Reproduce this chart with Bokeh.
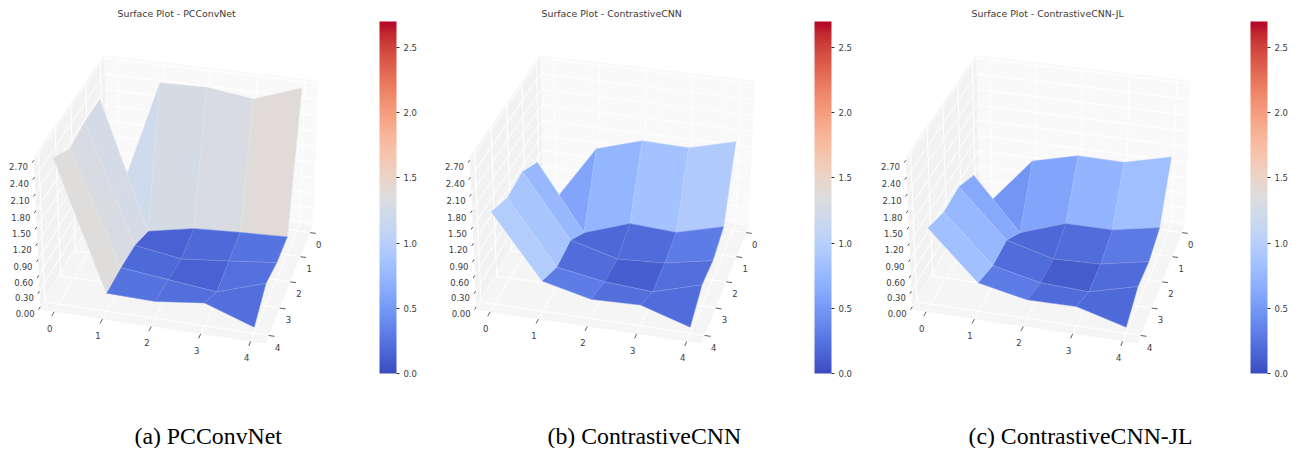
import numpy as np
from bokeh.embed import file_html
from bokeh.resources import INLINE
from bokeh.plotting import figure
from bokeh.layouts import row
from bokeh.models import (ColorBar, ColumnDataSource, FixedTicker, LinearColorMapper,
                          PrintfTickFormatter, Range1d, Title)
from bokeh.core.properties import value

TITLES = ["Surface Plot - PCConvNet", "Surface Plot - ContrastiveCNN", "Surface Plot - ContrastiveCNN-JL"]
CAPTIONS = ["(a) PCConvNet", "(b) ContrastiveCNN", "(c) ContrastiveCNN-JL"]
GRID_TICKS = [0, 1, 2, 3, 4]
Z_TICKS = [0.0, 0.3, 0.6, 0.9, 1.2, 1.5, 1.8, 2.1, 2.4, 2.7]
CB_TICKS = [0.0, 0.5, 1.0, 1.5, 2.0, 2.5]

# rows are y = 0..4, columns x = 0..4
PCCONVNET = [
    [0.00, 2.48, 2.50, 2.39, 2.70],
    [2.46, 0.03, 0.21, 0.26, 0.30],
    [2.46, 0.23, 0.09, 0.18, 0.28],
    [2.38, 0.28, 0.18, 0.08, 0.38],
    [2.65, 0.29, 0.27, 0.38, 0.06],
]
CONTRASTIVE = [
    [0.00, 1.21, 1.48, 1.46, 1.69],
    [1.26, 0.00, 0.31, 0.26, 0.50],
    [1.52, 0.33, 0.09, 0.14, 0.32],
    [1.48, 0.29, 0.14, 0.08, 0.35],
    [1.68, 0.52, 0.31, 0.34, 0.06],
]
CONTRASTIVE_JL = [
    [0.00, 0.97, 1.19, 1.18, 1.40],
    [1.01, 0.00, 0.31, 0.31, 0.48],
    [1.23, 0.33, 0.09, 0.12, 0.30],
    [1.21, 0.32, 0.12, 0.08, 0.32],
    [1.38, 0.49, 0.30, 0.31, 0.06],
]
SERIES = [PCCONVNET, CONTRASTIVE, CONTRASTIVE_JL]

COOLWARM = [(59,76,192),(68,90,204),(77,104,215),(87,117,225),(98,130,234),(108,142,241),
 (119,154,247),(130,165,251),(141,176,254),(152,185,255),(163,194,255),(174,201,253),
 (184,208,249),(194,213,244),(204,217,238),(213,219,230),(221,221,221),(229,216,209),
 (236,211,197),(241,204,185),(245,196,173),(247,187,160),(247,177,148),(247,166,135),
 (244,154,123),(241,141,111),(236,127,99),(229,112,88),(222,96,77),(213,80,66),
 (203,62,56),(192,40,47),(180,4,38)]
anchors = np.array(COOLWARM, float)
stops = np.linspace(0, 1, len(anchors))
PALETTE = ["#%02x%02x%02x" % tuple(int(round(np.interp(t, stops, anchors[:, c]))) for c in range(3))
           for t in np.linspace(0, 1, 256)]
ZMAX = 2.7
FACE_NORM = 2.77


def colour(v):
    return PALETTE[int(np.clip(v / FACE_NORM, 0, 1) * 255)]


# camera, in the style of a matplotlib 3D axes
ELEV, AZ = np.radians(30), np.radians(15)
XMIN, XMAX = -0.29, 4.29
ZMIN, ZTOP = -0.056, 2.756
BOX_XY, BOX_Z, DIST = 1.19, 0.90, 10.0
SCALE, CX, CY = 191.0, 181.0, 193.0
R = np.array([np.cos(AZ), -np.sin(AZ), 0])
U = np.array([-np.sin(ELEV) * np.sin(AZ), -np.sin(ELEV) * np.cos(AZ), np.cos(ELEV)])
E = np.array([np.cos(ELEV) * np.sin(AZ), np.cos(ELEV) * np.cos(AZ), np.sin(ELEV)])


def world(x, y, z):
    return np.array([((x - XMIN) / (XMAX - XMIN) - .5) * BOX_XY,
                     ((y - XMIN) / (XMAX - XMIN) - .5) * BOX_XY,
                     ((z - ZMIN) / (ZTOP - ZMIN) - .5) * BOX_Z])


def proj(x, y, z):
    P = world(x, y, z)
    f = DIST / (DIST - P @ E)
    return CX + SCALE * f * (P @ R), CY - SCALE * f * (P @ U)


FRAME_TOP, FRAME_H = 19.0, 401.0
WIDTHS = [436, 436, 429]
CB_X = [379, 378, 378]
CAP_LEFT = [134, 111, 96]
TITLE_LEFT = [117, 105, 99]
TXT = "#3a3a3a"
figs = []
for i, Z in enumerate(SERIES):
    Z = np.array(Z)
    W = WIDTHS[i]
    p = figure(frame_width=W, frame_height=int(FRAME_H), output_backend="svg", toolbar_location=None,
               x_range=Range1d(0, W), y_range=Range1d(FRAME_TOP + FRAME_H, FRAME_TOP),
               min_border=0, outline_line_color=None, margin=(4, 0, 0, 0),
               background_fill_color="white", border_fill_color="white")
    p.axis.visible = False
    p.xgrid.visible = False
    p.ygrid.visible = False
    p.title = Title(text=TITLES[i], align="left", offset=TITLE_LEFT[i], text_font="DejaVu Sans",
                    text_font_size="9.4px", text_font_style="normal", text_color=TXT, standoff=2)
    p.add_layout(Title(text=CAPTIONS[i], align="left", offset=CAP_LEFT[i], text_font="Liberation Serif",
                       text_font_size="23.8px", text_font_style="normal", text_color="black", standoff=0), "below")

    # panes
    def pane(pts, col):
        xy = [proj(*q) for q in pts]
        p.patch([a for a, _ in xy], [b for _, b in xy], fill_color=col, line_color=None)

    pane([(XMIN, XMAX, ZMIN), (XMAX, XMAX, ZMIN), (XMAX, XMIN, ZMIN), (XMIN, XMIN, ZMIN)], "#f5f5f5")
    pane([(XMIN, XMIN, ZMIN), (XMAX, XMIN, ZMIN), (XMAX, XMIN, ZTOP), (XMIN, XMIN, ZTOP)], "#f9f9f9")
    pane([(XMIN, XMIN, ZMIN), (XMIN, XMAX, ZMIN), (XMIN, XMAX, ZTOP), (XMIN, XMIN, ZTOP)], "#f2f2f2")

    # grid
    segs = []
    for t in GRID_TICKS:
        segs += [((t, XMIN, ZMIN), (t, XMAX, ZMIN)), ((t, XMIN, ZMIN), (t, XMIN, ZTOP)),
                 ((XMIN, t, ZMIN), (XMAX, t, ZMIN)), ((XMIN, t, ZMIN), (XMIN, t, ZTOP))]
    for t in Z_TICKS:
        segs += [((XMIN, XMIN, t), (XMAX, XMIN, t)), ((XMIN, XMIN, t), (XMIN, XMAX, t))]
    a = [proj(*s[0]) for s in segs]
    b = [proj(*s[1]) for s in segs]
    p.segment([q[0] for q in a], [q[1] for q in a], [q[0] for q in b], [q[1] for q in b],
              line_color="white", line_width=1)

    # surface, far faces first
    faces = []
    for iy in range(4):
        for ix in range(4):
            corners = [(ix, iy), (ix + 1, iy), (ix + 1, iy + 1), (ix, iy + 1)]
            pts = [(GRID_TICKS[cx], GRID_TICKS[cy], Z[cy, cx]) for cx, cy in corners]
            depth = np.mean([world(*q) @ E for q in pts])
            mean_z = np.mean([q[2] for q in pts])
            xy = [proj(*q) for q in pts]
            faces.append((depth, [q[0] for q in xy], [q[1] for q in xy], colour(mean_z)))
    faces.sort(key=lambda f: f[0])
    src = ColumnDataSource(dict(xs=[f[1] for f in faces], ys=[f[2] for f in faces], c=[f[3] for f in faces]))
    p.patches("xs", "ys", source=src, fill_color="c", line_color="c", line_width=0.4)
    p.multi_line("xs", "ys", source=src, line_color="white", line_width=0.5, line_alpha=0.2)

    # ticks and their labels
    tx0 = [proj(t, XMAX, ZMIN) for t in GRID_TICKS]
    tx1 = [proj(t, XMAX + 0.16, ZMIN) for t in GRID_TICKS]
    ty0 = [proj(XMAX, t, ZMIN) for t in GRID_TICKS]
    ty1 = [proj(XMAX + 0.12, t, ZMIN) for t in GRID_TICKS]
    tz0 = [proj(XMIN, XMAX, t) for t in Z_TICKS]
    tz1 = [proj(XMIN, XMAX + 0.1, t) for t in Z_TICKS]
    for s, e in ((tx0, tx1), (ty0, ty1), (tz0, tz1)):
        p.segment([q[0] for q in s], [q[1] for q in s], [q[0] for q in e], [q[1] for q in e],
                  line_color="#333333", line_width=0.8)
    font = dict(text_font=value("DejaVu Sans"), text_font_size="8.5px", text_color=TXT)
    p.text([q[0] for q in tx1], [q[1] for q in tx1], text=[str(t) for t in GRID_TICKS], text_align="center",
           text_baseline="middle", x_offset=-2, y_offset=12, **font)
    p.text([q[0] for q in ty1], [q[1] for q in ty1], text=[str(t) for t in GRID_TICKS], text_align="center",
           text_baseline="middle", x_offset=3, y_offset=11, **font)
    p.text([q[0] for q in tz1], [q[1] for q in tz1], text=["%.2f" % t for t in Z_TICKS], text_align="right",
           text_baseline="middle", x_offset=-4, y_offset=4, **font)

    mapper = LinearColorMapper(palette=PALETTE, low=0, high=ZMAX)
    cb = ColorBar(color_mapper=mapper, ticker=FixedTicker(ticks=CB_TICKS), width=17, height=352,
                  formatter=PrintfTickFormatter(format="%.1f"),
                  location=(CB_X[i], FRAME_TOP + FRAME_H - 373), padding=0, margin=0,
                  major_tick_in=0, major_tick_out=3, major_tick_line_color="#333333", minor_tick_line_color=None,
                  bar_line_color=None, major_label_text_font="DejaVu Sans", major_label_text_font_size="8.5px",
                  major_label_text_color=TXT, label_standoff=4, background_fill_color=None, border_line_color=None)
    p.add_layout(cb, "center")
    figs.append(p)

layout = row(*figs, spacing=0)
open("out.html", "w").write(file_html(layout, INLINE))
